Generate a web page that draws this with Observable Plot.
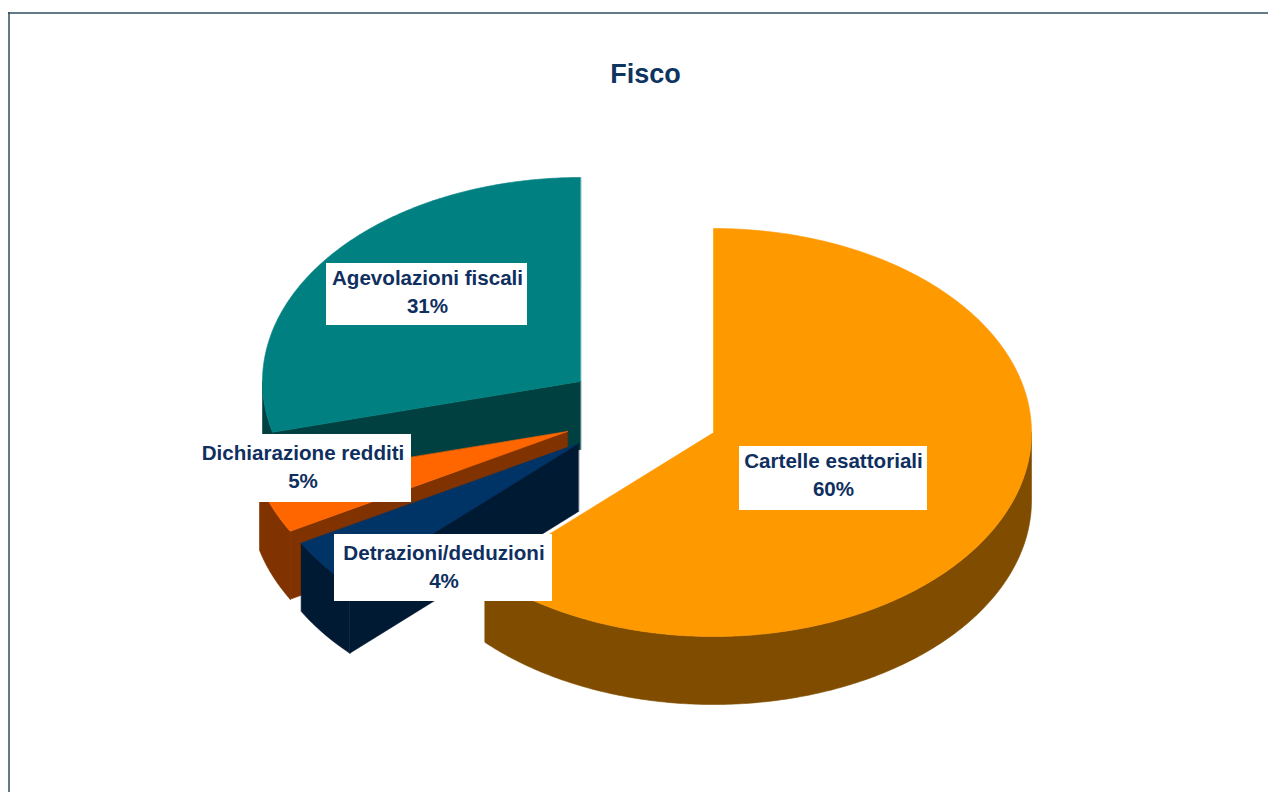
<!DOCTYPE html>
<html>
<head>
<meta charset="utf-8">
<script src="https://cdn.jsdelivr.net/npm/d3@7"></script>
<script src="https://cdn.jsdelivr.net/npm/@observablehq/plot@0.6"></script>
<style>
html,body{margin:0;padding:0;background:#fff}
svg{display:block}
</style>
</head>
<body>
<div id="chart"></div>
<script>
const categories = ["Cartelle esattoriali", "Detrazioni/deduzioni", "Dichiarazione redditi", "Agevolazioni fiscali"];
const shares = [60, 4, 5, 31];
const topColors = ["#ff9900", "#003366", "#ff6600", "#008080"];
const sideColors = ["#804d00", "#001a33", "#803300", "#004040"];

// Layout of the exploded pie, in page units
const W = 1268, H = 792;
const rx = 318, ry = 204, depth = 68, skew = 10.5 * Math.PI / 180;
const centersX = [713, 578, 567, 580];
const centersY = [432, 443, 431, 381];
const boxes = [[739, 927, 446, 510], [334, 552, 534, 601], [195, 411, 434, 502], [326, 527, 263, 325]];
const labelX = [833, 443.5, 302.5, 427];
const labelY = [473, 565, 465, 290];
const drawOrder = [3, 2, 1, 0];

const TAU = Math.PI * 2;
// the 3-D view stretches the angles of the slices along the ellipse
const screenAngle = frac => {
  const t = TAU * frac;
  return t + skew * Math.sin(2 * t);
};
const rim = (i, a, dz = 0) => ({
  x: centersX[i] + rx * Math.sin(a),
  y: centersY[i] - ry * Math.cos(a) + dz
});

let cumulative = 0;
const spans = shares.map(v => {
  const s = {from: screenAngle(cumulative / 100), to: screenAngle((cumulative + v) / 100)};
  cumulative += v;
  return s;
});

const shapes = [];
let shapeId = 0;
function addShape(points, color) {
  const id = shapeId++;
  for (const p of points) shapes.push({...p, id, color});
}
function arc(i, a0, a1, dz = 0) {
  const n = Math.max(2, Math.ceil((a1 - a0) / 0.01));
  return d3.range(n + 1).map(k => rim(i, a0 + (a1 - a0) * k / n, dz));
}
for (const i of drawOrder) {
  const {from, to} = spans[i];
  const apex = {x: centersX[i], y: centersY[i]};
  const apexLow = {x: apex.x, y: apex.y + depth};
  // outer wall: only the part of the rim on the near half of the pie
  const w0 = Math.max(from, Math.PI / 2), w1 = Math.min(to, Math.PI * 1.5);
  if (w1 > w0) addShape([...arc(i, w0, w1), ...arc(i, w0, w1, depth).reverse()], sideColors[i]);
  // radial wall at the slice's starting edge, when it faces the viewer
  if (Math.sin(from) < -1e-6) addShape([apex, rim(i, from), rim(i, from, depth), apexLow], sideColors[i]);
  // top face
  addShape([apex, ...arc(i, from, to)], topColors[i]);
}

const labels = categories.map((c, i) => ({
  text: `${c}\n${shares[i]}%`, x: labelX[i], y: labelY[i],
  x1: boxes[i][0], x2: boxes[i][1], y1: boxes[i][2], y2: boxes[i][3]
}));

const ink = "#0f2f5f";
const chart = Plot.plot({
  width: W, height: H,
  margin: 0,
  style: {background: "#fff"},
  x: {domain: [0, W], range: [0, W], axis: null},
  y: {domain: [0, H], range: [0, H], axis: null},
  color: {type: "identity"},
  marks: [
    Plot.ruleY([12.5], {x1: 8, x2: W, stroke: "#2f4f62", strokeWidth: 1.5}),
    Plot.ruleX([8.5], {y1: 12, y2: H, stroke: "#2f4f62", strokeWidth: 1.5}),
    Plot.line(shapes, {x: "x", y: "y", z: "id", fill: "color", stroke: "color", strokeWidth: 0.6, curve: "linear-closed"}),
    Plot.rect(labels, {x1: "x1", x2: "x2", y1: "y1", y2: "y2", fill: "#fff"}),
    Plot.text(labels, {x: "x", y: "y", text: "text", fill: ink, fontSize: 20.6, fontWeight: 700, fontFamily: "Liberation Sans", lineHeight: 1.36, textAnchor: "middle"}),
    Plot.text(["Fisco"], {x: 645, y: 74, text: d => d, fill: "#0d3560", fontSize: 27, fontWeight: 700, fontFamily: "Liberation Sans", textAnchor: "middle"})
  ]
});
document.getElementById("chart").append(chart);
</script>
</body>
</html>
